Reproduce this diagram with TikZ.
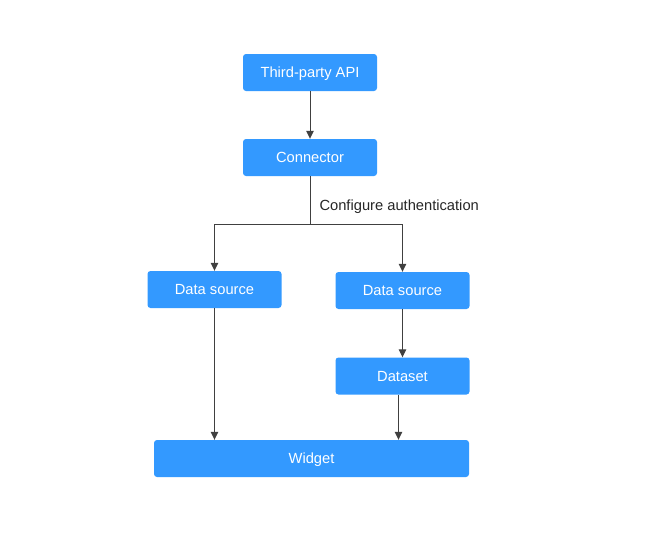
\documentclass[tikz,border=0pt]{standalone}
\usepackage{fontspec}
\setmainfont{Liberation Sans}
\usetikzlibrary{arrows.meta}
\begin{document}
\begin{tikzpicture}[x=1pt,y=-1pt,
		box/.style={fill=boxblue,text=white,rounded corners=3pt,minimum width=134pt,minimum height=37pt,inner sep=0pt,text depth=0pt,font=\fontsize{14.7}{17}\selectfont},
		arr/.style={draw=linegray,line width=1pt,-{Triangle[length=8pt,width=7.5pt]}},
		ln/.style={draw=linegray,line width=1pt}]
				\definecolor{boxblue}{RGB}{51,153,255}
				\definecolor{linegray}{RGB}{64,64,64}
				\useasboundingbox (0,0) rectangle (648,541);
				\node[box] (api) at (310,72.5) {Third-party API};
				\node[box] (conn) at (310,157.5) {Connector};
				\node[box] (dsleft) at (214.5,289.5) {Data source};
				\node[box] (dsright) at (402.5,290.5) {Data source};
				\node[box] (dataset) at (402.5,376) {Dataset};
				\node[box,minimum width=315pt] (widget) at (311.5,458.5) {Widget};
				\coordinate (split) at (310,224);
				\node[anchor=west,text=black!85,font=\fontsize{14.7}{17}\selectfont] (auth) at (316,207) {Configure authentication};
				\draw[arr] (api) -- (conn);
				\draw[ln] (conn) -- (split);
				\draw[arr] (split) -| (dsleft);
				\draw[arr] (split) -| (dsright);
				\draw[arr] (dsright) -- (dataset);
				\draw[arr] (dsleft.south) -- (dsleft.south |- widget.north);
				\draw[arr] ([xshift=-4pt]dataset.south) -- ([xshift=-4pt]dataset.south |- widget.north);
			\end{tikzpicture}
\end{document}
